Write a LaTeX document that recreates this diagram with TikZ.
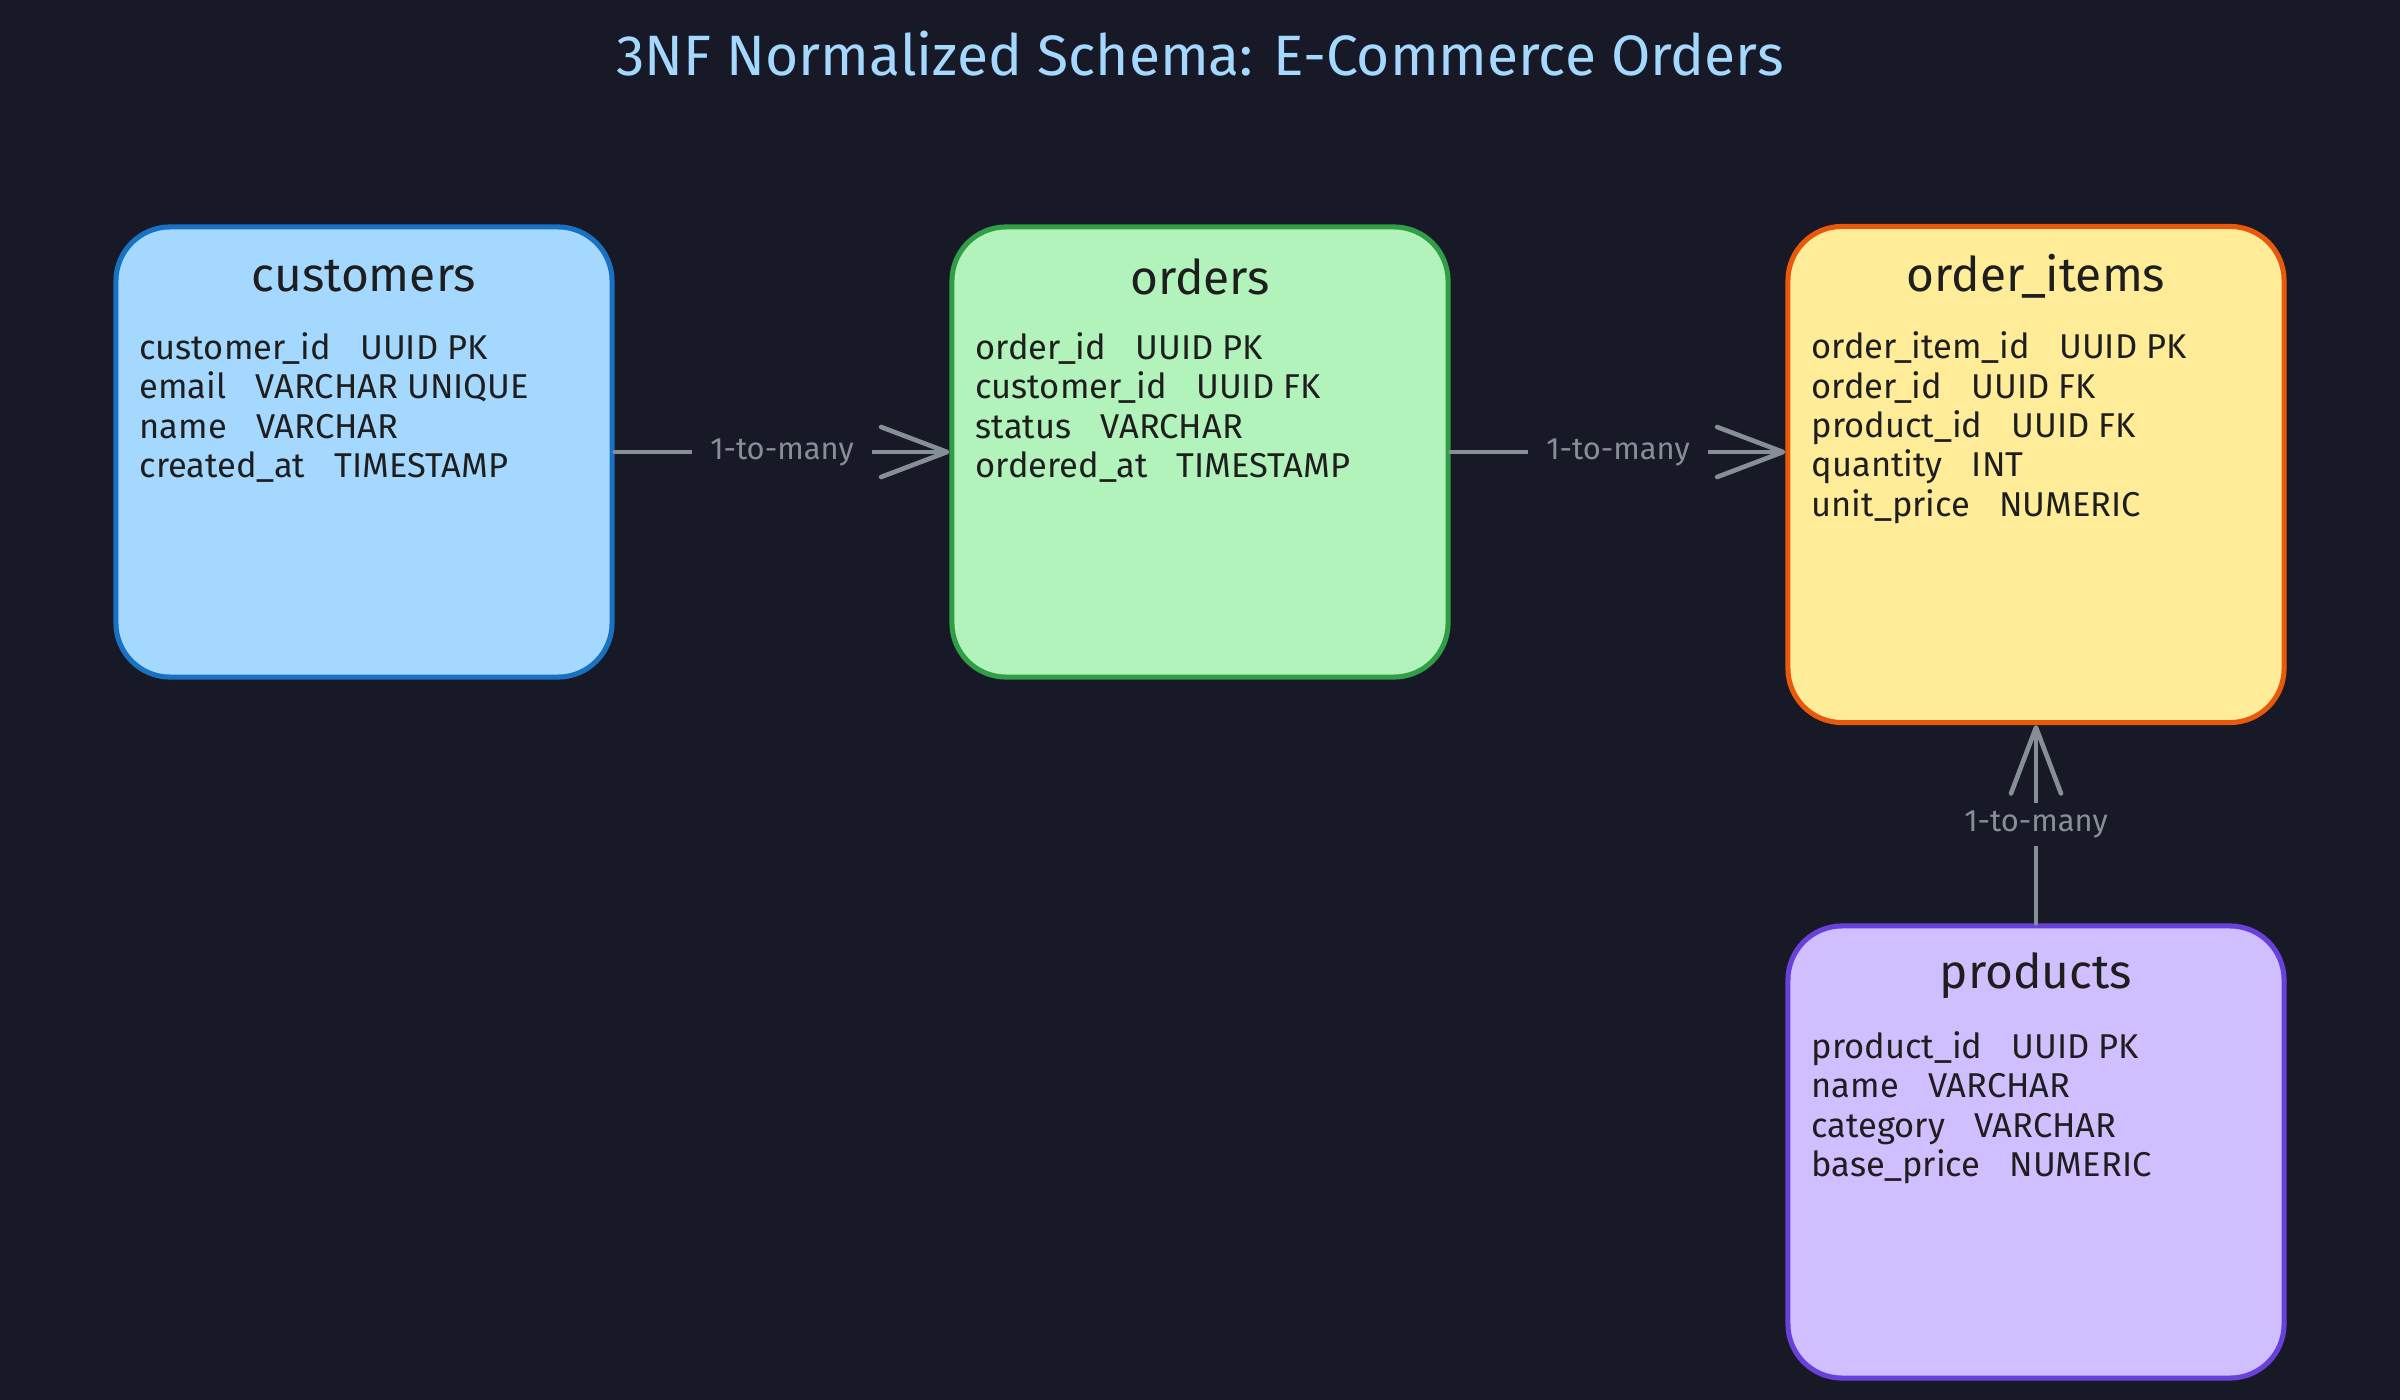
\documentclass[tikz,border=0pt]{standalone}
\usepackage{fontspec}
\setmainfont{Fira Sans}
\usetikzlibrary{arrows.meta,calc}
\definecolor{bg}{HTML}{181926}
\definecolor{ink}{HTML}{1E1E1E}
\definecolor{titlec}{HTML}{A5D8FF}
\definecolor{relc}{HTML}{868E96}
\definecolor{custfill}{HTML}{A5D8FF}
\definecolor{custline}{HTML}{1971C2}
\definecolor{ordfill}{HTML}{B2F2BB}
\definecolor{ordline}{HTML}{2F9E44}
\definecolor{itemfill}{HTML}{FFEC99}
\definecolor{itemline}{HTML}{E8590C}
\definecolor{prodfill}{HTML}{D0BFFF}
\definecolor{prodline}{HTML}{6741D9}
\begin{document}
\begin{tikzpicture}[x=0.025cm,y=-0.025cm,
  tbl/.style={draw, line width=3.6pt, rounded corners=1.35cm, minimum width=12.4cm, inner sep=0pt},
  hdr/.style={font=\fontsize{34}{40}\selectfont, text=ink},
  fld/.style={font=\fontsize{24.5}{29}\selectfont, text=ink, anchor=base west, inner sep=0pt},
  rel/.style={draw=relc, line width=3.3pt, line cap=round, -{Straight Barb[length=16.5mm,width=12.5mm,round]}},
  lbl/.style={fill=bg, text=relc, font=\fontsize{22}{26}\selectfont, inner xsep=0.45cm, inner ysep=0.2cm},
  ttl/.style={font=\fontsize{40.5}{48}\selectfont, text=titlec}]
\fill[bg] (0,0) rectangle (2400,1400);
\useasboundingbox (0,0) rectangle (2400,1400);

\node[ttl] (title) at (1200,54) {3NF Normalized Schema: E-Commerce Orders};

% tables
\node[tbl, fill=custfill, draw=custline, minimum height=11.25cm] (cust) at (364,452) {};
\node[tbl, fill=ordfill, draw=ordline, minimum height=11.25cm] (ord) at (1200,452) {};
\node[tbl, fill=itemfill, draw=itemline, minimum height=12.4cm] (items) at (2036,474.5) {};
\node[tbl, fill=prodfill, draw=prodline, minimum height=11.3cm] (prod) at (2036,1152) {};

% headers
\node[hdr] (cust-h) at ($(cust.north)+(0,52)$) {customers};
\node[hdr] (ord-h) at ($(ord.north)+(0,52)$) {orders};
\node[hdr] (items-h) at ($(items.north)+(0,52)$) {order\_items};
\node[hdr] (prod-h) at ($(prod.north)+(0,52)$) {products};

% fields
\foreach \t [count=\i] in {customer\_id\hspace{0.85em}UUID PK, email\hspace{0.85em}VARCHAR UNIQUE, name\hspace{0.85em}VARCHAR, created\_at\hspace{0.85em}TIMESTAMP}
  \node[fld] (cust-f\i) at ($(cust.north west)+(26,{135+(\i-1)*39.3})$) {\t};
\foreach \t [count=\i] in {order\_id\hspace{0.85em}UUID PK, customer\_id\hspace{0.85em}UUID FK, status\hspace{0.85em}VARCHAR, ordered\_at\hspace{0.85em}TIMESTAMP}
  \node[fld] (ord-f\i) at ($(ord.north west)+(26,{135+(\i-1)*39.3})$) {\t};
\foreach \t [count=\i] in {order\_item\_id\hspace{0.85em}UUID PK, order\_id\hspace{0.85em}UUID FK, product\_id\hspace{0.85em}UUID FK, quantity\hspace{0.85em}INT, unit\_price\hspace{0.85em}NUMERIC}
  \node[fld] (items-f\i) at ($(items.north west)+(26,{135+(\i-1)*39.3})$) {\t};
\foreach \t [count=\i] in {product\_id\hspace{0.85em}UUID PK, name\hspace{0.85em}VARCHAR, category\hspace{0.85em}VARCHAR, base\_price\hspace{0.85em}NUMERIC}
  \node[fld] (prod-f\i) at ($(prod.north west)+(26,{135+(\i-1)*39.3})$) {\t};

% relationships
\draw[rel] (cust.east) -- node[lbl] (l1) {1-to-many} (ord.west);
\draw[rel] (ord.east) -- node[lbl] (l2) {1-to-many} (ord.east -| items.west);
\draw[rel] (prod.north) -- node[lbl] (l3) {1-to-many} (items.south);
\end{tikzpicture}
\end{document}
